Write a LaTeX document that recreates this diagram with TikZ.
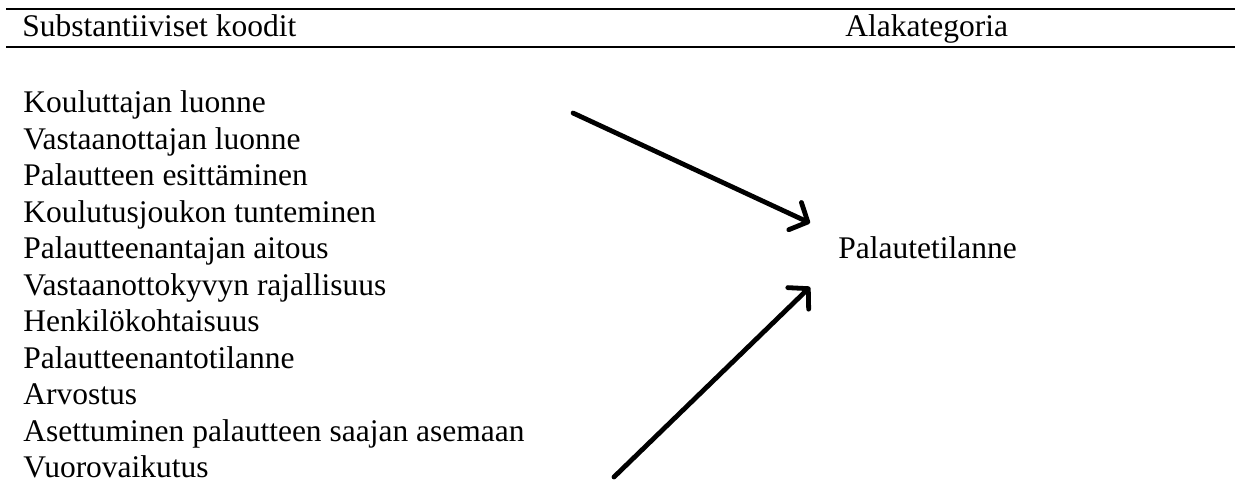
\documentclass[tikz,border=0pt]{standalone}
\usepackage{fontspec}
\setmainfont{Liberation Serif}
\usetikzlibrary{arrows.meta}

\tikzset{
  item/.style={anchor=base west, inner sep=0pt, font=\fontsize{15.75}{18}\selectfont},
  rule/.style={line width=1.2pt},
  pointer/.style={line width=2.4pt, line cap=round, -{Straight Barb[length=7pt,width=15pt,round]}}
}

\begin{document}
\begin{tikzpicture}[x=0.5pt,y=-0.5pt]
  \useasboundingbox (0,0) rectangle (1241,485);
  % header rules
  \coordinate (ruleA) at (6,9);
  \coordinate (ruleB) at (1235,9);
  \coordinate (ruleC) at (6,47);
  \coordinate (ruleD) at (1235,47);
  \draw[rule] (ruleA) -- (ruleB);
  \draw[rule] (ruleC) -- (ruleD);
  \node[item] (codes) at (22,37) {Substantiiviset koodit};
  \node[item] (subcat) at (845,37) {Alakategoria};
  % list of codes
  \foreach \txt [count=\i from 0] in {Kouluttajan luonne, Vastaanottajan luonne,
      Palautteen esittäminen, Koulutusjoukon tunteminen, Palautteenantajan aitous,
      Vastaanottokyvyn rajallisuus, Henkilökohtaisuus, Palautteenantotilanne,
      Arvostus, Asettuminen palautteen saajan asemaan, Vuorovaikutus}
    \node[item] (code\i) at (23,113+36.5*\i) {\txt};
  \node[item] (situation) at (838,259) {Palautetilanne};
  % arrows
  \coordinate (tailA) at (573,113);
  \coordinate (headA) at (810,223);
  \coordinate (tailB) at (614,477);
  \coordinate (headB) at (810,287);
  \draw[pointer] (tailA) -- (headA);
  \draw[pointer] (tailB) -- (headB);
\end{tikzpicture}
\end{document}
